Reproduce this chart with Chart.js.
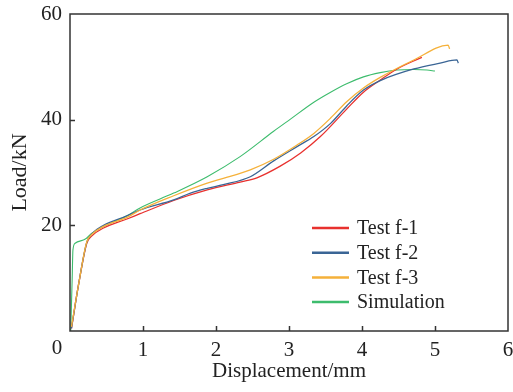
<!DOCTYPE html>
<html>
<head>
<meta charset="utf-8">
<script src="https://cdn.jsdelivr.net/npm/chart.js@4"></script>
<style>
  html, body { margin: 0; padding: 0; background: #fff; }
  #wrap { width: 513px; height: 392px; }
</style>
</head>
<body>
<div id="wrap"><canvas id="loadChart" width="513" height="392"></canvas></div>
<script>
const xTicks = [0, 1, 2, 3, 4, 5, 6];
const yTicks = [0, 20, 40, 60];

const f1X = [0.02, 0.12, 0.23, 0.30, 0.46, 0.78, 0.96, 1.42, 1.88, 2.33, 2.56, 2.88, 3.16, 3.43, 3.79, 4.02, 4.25, 4.48, 4.82];
const f1Y = [0.5, 9, 16.6, 18.0, 19.5, 21.2, 22.2, 24.7, 26.7, 28.2, 29.0, 31.2, 33.7, 36.8, 42.0, 45.2, 47.5, 49.6, 51.8];

const f2X = [0.02, 0.12, 0.23, 0.30, 0.46, 0.78, 0.96, 1.42, 1.65, 1.88, 2.10, 2.47, 2.79, 3.11, 3.34, 3.57, 3.79, 4.02, 4.25, 4.71, 5.07, 5.30, 5.32];
const f2Y = [0.5, 9, 16.8, 18.4, 20.0, 21.8, 22.9, 24.8, 26.1, 27.0, 27.7, 29.2, 32.2, 34.9, 36.8, 39.3, 42.6, 45.6, 47.4, 49.6, 50.7, 51.3, 50.7];

const f3X = [0.02, 0.12, 0.23, 0.30, 0.46, 0.78, 0.96, 1.42, 1.88, 2.10, 2.47, 2.79, 3.11, 3.34, 3.57, 3.79, 4.02, 4.25, 4.71, 5.18, 5.20];
const f3Y = [0.8, 9, 16.9, 18.3, 19.8, 21.5, 22.9, 25.6, 28.0, 28.9, 30.5, 32.5, 35.2, 37.4, 40.3, 43.4, 46.0, 48.0, 51.3, 54.1, 53.4];

const simX = [0.01, 0.03, 0.04, 0.07, 0.21, 0.30, 0.46, 0.78, 0.96, 1.42, 1.88, 2.33, 2.79, 3.02, 3.34, 3.57, 3.79, 4.02, 4.25, 4.48, 4.71, 4.89, 5.00];
const simY = [0, 10, 15.3, 16.6, 17.4, 18.5, 19.8, 21.8, 23.3, 26.1, 29.2, 33.0, 37.8, 40.1, 43.3, 45.2, 46.8, 48.1, 48.9, 49.4, 49.5, 49.4, 49.2];

const seriesNames = ['Test f-1', 'Test f-2', 'Test f-3', 'Simulation'];
const seriesColors = ['#e8312e', '#3a6595', '#f5b13a', '#3dbc6d'];

const FONT = '"Liberation Serif", "Times New Roman", serif';
const AXIS = '#333333';

function pts(xs, ys) {
  return xs.map((x, i) => ({ x: x, y: ys[i] }));
}

function line(idx, xs, ys, width, order) {
  return {
    label: seriesNames[idx],
    data: pts(xs, ys),
    borderColor: seriesColors[idx],
    borderWidth: width,
    pointRadius: 0,
    cubicInterpolationMode: 'monotone',
    fill: false,
    order: order
  };
}

// frame, inward ticks, origin label and legend
const framePlugin = {
  id: 'frame',
  afterDraw(chart) {
    const c = chart.ctx;
    const a = chart.chartArea;
    const xs = chart.scales.x;
    const ys = chart.scales.y;
    c.save();
    c.strokeStyle = AXIS;
    c.lineWidth = 1.5;
    c.strokeRect(a.left, a.top, a.right - a.left, a.bottom - a.top);
    c.beginPath();
    xTicks.slice(1, -1).forEach(v => {
      const px = Math.round(xs.getPixelForValue(v)) + 0.5;
      c.moveTo(px, a.bottom);
      c.lineTo(px, a.bottom - 5);
    });
    yTicks.slice(1, -1).forEach(v => {
      const py = Math.round(ys.getPixelForValue(v)) + 0.5;
      c.moveTo(a.left, py);
      c.lineTo(a.left + 5, py);
    });
    c.stroke();

    c.fillStyle = '#222';
    c.font = '21px ' + FONT;
    c.textAlign = 'center';
    c.textBaseline = 'middle';
    c.fillText('0', a.left - 13, a.bottom + 17);

    // legend
    const lx = 312, ly = 228, gap = 24.7;
    seriesNames.forEach((name, i) => {
      const y = ly + i * gap;
      c.strokeStyle = seriesColors[i];
      c.lineWidth = 2.5;
      c.beginPath();
      c.moveTo(lx, y);
      c.lineTo(lx + 37, y);
      c.stroke();
      c.fillStyle = '#222';
      c.textAlign = 'left';
      c.font = '20px ' + FONT;
      c.fillText(name, lx + 45, y + 1);
    });
    c.restore();
  }
};

const ctx = document.getElementById('loadChart').getContext('2d');
const chart = new Chart(ctx, {
  type: 'line',
  data: {
    datasets: [
      line(0, f1X, f1Y, 1.3, 3),
      line(1, f2X, f2Y, 1.3, 2),
      line(2, f3X, f3Y, 1.3, 1),
      line(3, simX, simY, 1.1, 4)
    ]
  },
  options: {
    responsive: false,
    animation: false,
    layout: { padding: { left: 0, right: 5, top: 14, bottom: 0 } },
    plugins: {
      legend: { display: false },
      tooltip: { enabled: false }
    },
    scales: {
      x: {
        type: 'linear',
        min: 0,
        max: 6,
        afterBuildTicks(scale) {
          scale.ticks = xTicks.map(v => ({ value: v }));
        },
        afterFit(scale) {
          scale.height = 61;
          scale.paddingLeft = 0;
          scale.paddingRight = 0;
        },
        grid: { display: false, drawTicks: false },
        border: { display: false },
        ticks: {
          color: '#222',
          padding: 7,
          font: { family: FONT, size: 21 },
          callback: v => (v === 0 ? '' : v)
        },
        title: {
          display: true,
          text: 'Displacement/mm',
          color: '#222',
          padding: { top: 0, bottom: 8 },
          font: { family: FONT, size: 21 }
        }
      },
      y: {
        type: 'linear',
        min: 0,
        max: 60,
        afterBuildTicks(scale) {
          scale.ticks = yTicks.map(v => ({ value: v }));
        },
        afterFit(scale) {
          scale.width = 70;
          scale.paddingTop = 0;
          scale.paddingBottom = 0;
        },
        grid: { display: false, drawTicks: false },
        border: { display: false },
        ticks: {
          color: '#222',
          padding: 8,
          font: { family: FONT, size: 21 },
          callback: v => (v === 0 ? '' : v)
        },
        title: {
          display: true,
          text: 'Load/kN',
          color: '#222',
          padding: { top: 7, bottom: 0 },
          font: { family: FONT, size: 22 }
        }
      }
    }
  },
  plugins: [framePlugin]
});
</script>
</body>
</html>
